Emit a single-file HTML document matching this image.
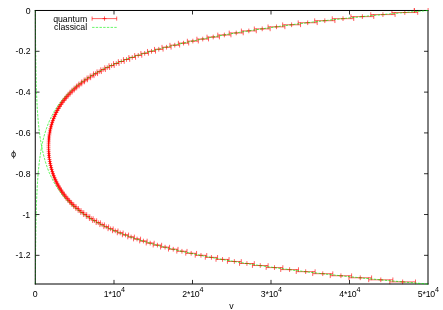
<!DOCTYPE html>
<html><head><meta charset="utf-8"><title>plot</title>
<style>html,body{margin:0;padding:0;background:#fff;}body{width:443px;height:310px;overflow:hidden;font-family:"Liberation Sans",sans-serif;}</style>
</head><body>
<svg width="443" height="310" viewBox="0 0 443 310" style="display:block;will-change:transform">
<defs><filter id="g" x="-5%" y="-5%" width="110%" height="110%"><feOffset dx="0" dy="0"/></filter></defs>
<rect width="443" height="310" fill="#fff"/>
<path d="M414.38 8.10v4.6M428.10 8.00v2.5M391.91 12.54H417.73M391.91 10.19v4.7M417.73 10.19v4.7M402.82 12.54h4M404.82 10.19v4.7M370.78 14.58H395.07M370.78 12.23v4.7M395.07 12.23v4.7M380.93 14.58h4M382.93 12.23v4.7M350.92 16.62H373.77M350.92 14.27v4.7M373.77 14.27v4.7M360.35 16.62h4M362.35 14.27v4.7M332.25 18.66H353.74M332.25 16.31v4.7M353.74 16.31v4.7M341.00 18.66h4M343.00 16.31v4.7M314.70 20.70H334.91M314.70 18.35v4.7M334.91 18.35v4.7M322.80 20.70h4M324.80 18.35v4.7M298.19 22.74H317.20M298.19 20.39v4.7M317.20 20.39v4.7M305.69 22.74h4M307.69 20.39v4.7M282.66 24.78H300.54M282.66 22.43v4.7M300.54 22.43v4.7M289.60 24.78h4M291.60 22.43v4.7M268.06 26.82H284.88M268.06 24.47v4.7M284.88 24.47v4.7M274.47 26.82h4M276.47 24.47v4.7M254.32 28.86H270.14M254.32 26.51v4.7M270.14 26.51v4.7M260.23 28.86h4M262.23 26.51v4.7M241.39 30.90H256.27M241.39 28.55v4.7M256.27 28.55v4.7M246.83 30.90h4M248.83 28.55v4.7M229.23 32.94H243.23M229.23 30.59v4.7M243.23 30.59v4.7M234.23 32.94h4M236.23 30.59v4.7M217.79 34.98H230.95M217.79 32.63v4.7M230.95 32.63v4.7M222.37 34.98h4M224.37 32.63v4.7M207.03 37.02H219.40M207.03 34.67v4.7M219.40 34.67v4.7M211.22 37.02h4M213.22 34.67v4.7M196.90 39.06H208.53M196.90 36.71v4.7M208.53 36.71v4.7M200.72 39.06h4M202.72 36.71v4.7M187.37 41.10H198.30M187.37 38.75v4.7M198.30 38.75v4.7M190.83 41.10h4M192.83 38.75v4.7M178.39 43.14H188.68M178.39 40.79v4.7M188.68 40.79v4.7M181.54 43.14h4M183.54 40.79v4.7M169.95 45.19H179.62M169.95 42.84v4.7M179.62 42.84v4.7M172.78 45.19h4M174.78 42.84v4.7M162.01 47.23H171.09M162.01 44.88v4.7M171.09 44.88v4.7M164.55 47.23h4M166.55 44.88v4.7M154.53 49.27H163.07M154.53 46.92v4.7M163.07 46.92v4.7M156.80 49.27h4M158.80 46.92v4.7M147.49 51.31H155.51M147.49 48.96v4.7M155.51 48.96v4.7M149.50 51.31h4M151.50 48.96v4.7M140.89 53.35H148.42M140.89 51.00v4.7M148.42 51.00v4.7M142.66 53.35h4M144.66 51.00v4.7M134.70 55.39H141.78M134.70 53.04v4.7M141.78 53.04v4.7M136.24 55.39h4M138.24 53.04v4.7M128.89 57.43H135.54M128.89 55.08v4.7M135.54 55.08v4.7M130.22 57.43h4M132.22 55.08v4.7M123.44 59.47H129.69M123.44 57.12v4.7M129.69 57.12v4.7M124.56 59.47h4M126.56 57.12v4.7M118.33 61.51H124.19M118.33 59.16v4.7M124.19 59.16v4.7M119.26 61.51h4M121.26 59.16v4.7M113.52 63.55H119.03M113.52 61.20v4.7M119.03 61.20v4.7M114.28 63.55h4M116.28 61.20v4.7M109.01 65.59H114.19M109.01 63.24v4.7M114.19 63.24v4.7M109.60 65.59h4M111.60 63.24v4.7M104.78 67.63H109.63M104.78 65.28v4.7M109.63 65.28v4.7M105.20 67.63h4M107.20 65.28v4.7M100.80 69.67H105.35M100.80 67.32v4.7M105.35 67.32v4.7M101.07 69.67h4M103.07 67.32v4.7M97.05 71.71H101.33M97.05 69.36v4.7M101.33 69.36v4.7M97.19 71.71h4M99.19 69.36v4.7M93.54 73.75H97.54M93.54 71.40v4.7M97.54 71.40v4.7M93.54 73.75h4M95.54 71.40v4.7M90.23 75.79H93.98M90.23 73.44v4.7M93.98 73.44v4.7M90.11 75.79h4M92.11 73.44v4.7M87.12 77.83H90.64M87.12 75.48v4.7M90.64 75.48v4.7M86.88 77.83h4M88.88 75.48v4.7M84.20 79.87H87.49M84.20 77.52v4.7M87.49 77.52v4.7M83.85 79.87h4M85.85 77.52v4.7M81.45 81.91H84.53M81.45 79.56v4.7M84.53 79.56v4.7M80.99 81.91h4M82.99 79.56v4.7M78.87 83.95H81.74M78.87 81.60v4.7M81.74 81.60v4.7M78.31 83.95h4M80.31 81.60v4.7M76.45 85.99H79.12M76.45 83.64v4.7M79.12 83.64v4.7M75.78 85.99h4M77.78 83.64v4.7M74.17 88.03H76.66M74.17 85.68v4.7M76.66 85.68v4.7M73.41 88.03h4M75.41 85.68v4.7M72.02 90.07H74.34M72.02 87.72v4.7M74.34 87.72v4.7M71.18 90.07h4M73.18 87.72v4.7M70.01 92.11H72.16M70.01 89.76v4.7M72.16 89.76v4.7M69.09 92.11h4M71.09 89.76v4.7M68.11 94.15H70.10M68.11 91.80v4.7M70.10 91.80v4.7M67.10 94.15h4M69.10 91.80v4.7M66.31 96.19H68.16M66.31 93.84v4.7M68.16 93.84v4.7M65.24 96.19h4M67.24 93.84v4.7M64.63 98.23H66.34M64.63 95.88v4.7M66.34 95.88v4.7M63.49 98.23h4M65.49 95.88v4.7M63.06 100.27H64.63M63.06 97.92v4.7M64.63 97.92v4.7M61.85 100.27h4M63.85 97.92v4.7M61.60 102.31H63.04M61.60 99.96v4.7M63.04 99.96v4.7M60.32 102.31h4M62.32 99.96v4.7M60.24 104.35H61.56M60.24 102.00v4.7M61.56 102.00v4.7M58.90 104.35h4M60.90 102.00v4.7M58.99 106.39H60.19M58.99 104.04v4.7M60.19 104.04v4.7M57.59 106.39h4M59.59 104.04v4.7M57.84 108.43H58.92M57.84 106.08v4.7M58.92 106.08v4.7M56.38 108.43h4M58.38 106.08v4.7M56.78 110.47H57.76M56.78 108.12v4.7M57.76 108.12v4.7M55.27 110.47h4M57.27 108.12v4.7M55.80 112.51H56.69M55.80 110.16v4.7M56.69 110.16v4.7M54.25 112.51h4M56.25 110.16v4.7M54.90 114.56H55.69M54.90 112.21v4.7M55.69 112.21v4.7M53.29 114.56h4M55.29 112.21v4.7M54.06 116.60H54.76M54.06 114.25v4.7M54.76 114.25v4.7M52.41 116.60h4M54.41 114.25v4.7M53.28 118.64H53.90M53.28 116.29v4.7M53.90 116.29v4.7M51.59 118.64h4M53.59 116.29v4.7M52.57 120.68H53.11M52.57 118.33v4.7M53.11 118.33v4.7M50.84 120.68h4M52.84 118.33v4.7M51.93 122.72H52.39M51.93 120.37v4.7M52.39 120.37v4.7M50.16 122.72h4M52.16 120.37v4.7M51.34 124.76H51.73M51.34 122.41v4.7M51.73 122.41v4.7M49.54 124.76h4M51.54 122.41v4.7M50.82 126.80H51.14M50.82 124.45v4.7M51.14 124.45v4.7M48.98 126.80h4M50.98 124.45v4.7M50.35 128.84H50.62M50.35 126.49v4.7M50.62 126.49v4.7M48.48 128.84h4M50.48 126.49v4.7M49.94 130.88H50.15M49.94 128.53v4.7M50.15 128.53v4.7M48.05 130.88h4M50.05 128.53v4.7M49.59 132.92H49.75M49.59 130.57v4.7M49.75 130.57v4.7M47.67 132.92h4M49.67 130.57v4.7M49.29 134.96H49.41M49.29 132.61v4.7M49.41 132.61v4.7M47.35 134.96h4M49.35 132.61v4.7M49.04 137.00H49.13M49.04 134.65v4.7M49.13 134.65v4.7M47.08 137.00h4M49.08 134.65v4.7M48.85 139.04H48.90M48.85 136.69v4.7M48.90 136.69v4.7M46.87 139.04h4M48.87 136.69v4.7M48.70 141.08H48.73M48.70 138.73v4.7M48.73 138.73v4.7M46.72 141.08h4M48.72 138.73v4.7M48.60 143.12H48.62M48.60 140.77v4.7M48.62 140.77v4.7M46.61 143.12h4M48.61 140.77v4.7M48.55 145.16H48.56M48.55 142.81v4.7M48.56 142.81v4.7M46.55 145.16h4M48.55 142.81v4.7M48.55 147.20H48.55M48.55 144.85v4.7M48.55 144.85v4.7M46.55 147.20h4M48.55 144.85v4.7M48.59 149.24H48.59M48.59 146.89v4.7M48.59 146.89v4.7M46.59 149.24h4M48.59 146.89v4.7M48.67 151.28H48.68M48.67 148.93v4.7M48.68 148.93v4.7M46.68 151.28h4M48.68 148.93v4.7M48.80 153.32H48.83M48.80 150.97v4.7M48.83 150.97v4.7M46.81 153.32h4M48.81 150.97v4.7M48.97 155.36H49.02M48.97 153.01v4.7M49.02 153.01v4.7M46.99 155.36h4M48.99 153.01v4.7M49.18 157.40H49.27M49.18 155.05v4.7M49.27 155.05v4.7M47.23 157.40h4M49.23 155.05v4.7M49.45 159.44H49.57M49.45 157.09v4.7M49.57 157.09v4.7M47.51 159.44h4M49.51 157.09v4.7M49.76 161.48H49.92M49.76 159.13v4.7M49.92 159.13v4.7M47.84 161.48h4M49.84 159.13v4.7M50.11 163.52H50.33M50.11 161.17v4.7M50.33 161.17v4.7M48.22 163.52h4M50.22 161.17v4.7M50.52 165.56H50.79M50.52 163.21v4.7M50.79 163.21v4.7M48.65 165.56h4M50.65 163.21v4.7M50.98 167.60H51.31M50.98 165.25v4.7M51.31 165.25v4.7M49.14 167.60h4M51.14 165.25v4.7M51.50 169.64H51.89M51.50 167.29v4.7M51.89 167.29v4.7M49.69 169.64h4M51.69 167.29v4.7M52.07 171.68H52.53M52.07 169.33v4.7M52.53 169.33v4.7M50.30 171.68h4M52.30 169.33v4.7M52.69 173.72H53.23M52.69 171.37v4.7M53.23 171.37v4.7M50.96 173.72h4M52.96 171.37v4.7M53.39 175.76H54.00M53.39 173.41v4.7M54.00 173.41v4.7M51.69 175.76h4M53.69 173.41v4.7M54.14 177.80H54.84M54.14 175.45v4.7M54.84 175.45v4.7M52.49 177.80h4M54.49 175.45v4.7M54.97 179.84H55.76M54.97 177.49v4.7M55.76 177.49v4.7M53.36 179.84h4M55.36 177.49v4.7M55.87 181.89H56.75M55.87 179.54v4.7M56.75 179.54v4.7M54.31 181.89h4M56.31 179.54v4.7M56.84 183.93H57.82M56.84 181.58v4.7M57.82 181.58v4.7M55.33 183.93h4M57.33 181.58v4.7M57.89 185.97H58.97M57.89 183.62v4.7M58.97 183.62v4.7M56.43 185.97h4M58.43 183.62v4.7M59.01 188.01H60.20M59.01 185.66v4.7M60.20 185.66v4.7M57.61 188.01h4M59.61 185.66v4.7M60.21 190.05H61.52M60.21 187.70v4.7M61.52 187.70v4.7M58.86 190.05h4M60.86 187.70v4.7M61.50 192.09H62.92M61.50 189.74v4.7M62.92 189.74v4.7M60.21 192.09h4M62.21 189.74v4.7M62.87 194.13H64.43M62.87 191.78v4.7M64.43 191.78v4.7M61.65 194.13h4M63.65 191.78v4.7M64.35 196.17H66.03M64.35 193.82v4.7M66.03 193.82v4.7M63.19 196.17h4M65.19 193.82v4.7M65.94 198.21H67.76M65.94 195.86v4.7M67.76 195.86v4.7M64.85 198.21h4M66.85 195.86v4.7M67.64 200.25H69.60M67.64 197.90v4.7M69.60 197.90v4.7M66.62 200.25h4M68.62 197.90v4.7M69.47 202.29H71.58M69.47 199.94v4.7M71.58 199.94v4.7M68.52 202.29h4M70.52 199.94v4.7M71.43 204.33H73.71M71.43 201.98v4.7M73.71 201.98v4.7M70.57 204.33h4M72.57 201.98v4.7M73.54 206.37H75.99M73.54 204.02v4.7M75.99 204.02v4.7M72.77 206.37h4M74.77 204.02v4.7M75.78 208.41H78.42M75.78 206.06v4.7M78.42 206.06v4.7M75.10 208.41h4M77.10 206.06v4.7M78.18 210.45H81.00M78.18 208.10v4.7M81.00 208.10v4.7M77.59 210.45h4M79.59 208.10v4.7M80.73 212.49H83.75M80.73 210.14v4.7M83.75 210.14v4.7M80.24 212.49h4M82.24 210.14v4.7M83.44 214.53H86.68M83.44 212.18v4.7M86.68 212.18v4.7M83.06 214.53h4M85.06 212.18v4.7M86.33 216.57H89.79M86.33 214.22v4.7M89.79 214.22v4.7M86.06 216.57h4M88.06 214.22v4.7M89.41 218.61H93.11M89.41 216.26v4.7M93.11 216.26v4.7M89.26 218.61h4M91.26 216.26v4.7M92.69 220.65H96.64M92.69 218.30v4.7M96.64 218.30v4.7M92.67 220.65h4M94.67 218.30v4.7M96.18 222.69H100.39M96.18 220.34v4.7M100.39 220.34v4.7M96.29 222.69h4M98.29 220.34v4.7M99.90 224.73H104.39M99.90 222.38v4.7M104.39 222.38v4.7M100.15 224.73h4M102.15 222.38v4.7M103.85 226.77H108.64M103.85 224.42v4.7M108.64 224.42v4.7M104.25 226.77h4M106.25 224.42v4.7M108.06 228.81H113.17M108.06 226.46v4.7M113.17 226.46v4.7M108.62 228.81h4M110.62 226.46v4.7M112.55 230.85H117.98M112.55 228.50v4.7M117.98 228.50v4.7M113.26 230.85h4M115.26 228.50v4.7M117.32 232.89H123.11M117.32 230.54v4.7M123.11 230.54v4.7M118.21 232.89h4M120.21 230.54v4.7M122.40 234.93H128.57M122.40 232.58v4.7M128.57 232.58v4.7M123.48 234.93h4M125.48 232.58v4.7M127.80 236.97H134.37M127.80 234.62v4.7M134.37 234.62v4.7M129.09 236.97h4M131.09 234.62v4.7M133.56 239.01H140.56M133.56 236.66v4.7M140.56 236.66v4.7M135.06 239.01h4M137.06 236.66v4.7M139.70 241.05H147.14M139.70 238.70v4.7M147.14 238.70v4.7M141.42 241.05h4M143.42 238.70v4.7M146.23 243.09H154.16M146.23 240.74v4.7M154.16 240.74v4.7M148.19 243.09h4M150.19 240.74v4.7M153.19 245.13H161.63M153.19 242.78v4.7M161.63 242.78v4.7M155.41 245.13h4M157.41 242.78v4.7M160.59 247.17H169.57M160.59 244.82v4.7M169.57 244.82v4.7M163.08 247.17h4M165.08 244.82v4.7M168.47 249.21H178.02M168.47 246.86v4.7M178.02 246.86v4.7M171.25 249.21h4M173.25 246.86v4.7M176.84 251.26H187.01M176.84 248.91v4.7M187.01 248.91v4.7M179.93 251.26h4M181.93 248.91v4.7M185.75 253.30H196.57M185.75 250.95v4.7M196.57 250.95v4.7M189.16 253.30h4M191.16 250.95v4.7M195.23 255.34H206.74M195.23 252.99v4.7M206.74 252.99v4.7M198.98 255.34h4M200.98 252.99v4.7M205.30 257.38H217.55M205.30 255.03v4.7M217.55 255.03v4.7M209.43 257.38h4M211.43 255.03v4.7M216.02 259.42H229.05M216.02 257.07v4.7M229.05 257.07v4.7M220.54 259.42h4M222.54 257.07v4.7M227.42 261.46H241.28M227.42 259.11v4.7M241.28 259.11v4.7M232.35 261.46h4M234.35 259.11v4.7M239.55 263.50H254.29M239.55 261.15v4.7M254.29 261.15v4.7M244.92 263.50h4M246.92 261.15v4.7M252.44 265.54H268.12M252.44 263.19v4.7M268.12 263.19v4.7M258.28 265.54h4M260.28 263.19v4.7M266.15 267.58H282.83M266.15 265.23v4.7M282.83 265.23v4.7M272.49 267.58h4M274.49 265.23v4.7M280.73 269.62H298.47M280.73 267.27v4.7M298.47 267.27v4.7M287.60 269.62h4M289.60 267.27v4.7M296.24 271.66H315.11M296.24 269.31v4.7M315.11 269.31v4.7M303.67 271.66h4M305.67 269.31v4.7M312.72 273.70H332.79M312.72 271.35v4.7M332.79 271.35v4.7M320.76 273.70h4M322.76 271.35v4.7M330.26 275.74H351.60M330.26 273.39v4.7M351.60 273.39v4.7M338.93 275.74h4M340.93 273.39v4.7M348.91 277.78H371.60M348.91 275.43v4.7M371.60 275.43v4.7M358.25 277.78h4M360.25 275.43v4.7M368.73 279.82H392.87M368.73 277.47v4.7M392.87 277.47v4.7M378.80 279.82h4M380.80 277.47v4.7M389.82 281.86H415.49M389.82 279.51v4.7M415.49 279.51v4.7M400.65 281.86h4M402.65 279.51v4.7" stroke="#ff0000" stroke-width="0.62" fill="none"/>
<g stroke="#000" fill="none">
<path d="M35.3 284.4V10.0" stroke-width="1" opacity="0.5"/>
<path d="M34.8 10.47H428.5" stroke-width="1"/>
<path d="M428.0 10.5V284.5M34.8 284.0H428.5" stroke-width="1"/>
<path d="M114.00 283.9v-4M114.00 10.5v4M192.50 283.9v-4M192.50 10.5v4M271.00 283.9v-4M271.00 10.5v4M349.50 283.9v-4M349.50 10.5v4M35.5 51.31h4M428.0 51.31h-4M35.5 92.11h4M428.0 92.11h-4M35.5 132.92h4M428.0 132.92h-4M35.5 173.72h4M428.0 173.72h-4M35.5 214.53h4M428.0 214.53h-4M35.5 255.34h4M428.0 255.34h-4" stroke-width="0.9" stroke="#000" opacity="0.9"/>
</g>
<path d="M414.26 8.10v4.6" stroke="#ff0000" stroke-width="0.62" fill="none" opacity="0.8"/>
<path d="M35.40 10.50L35.41 10.84L35.41 11.18L35.41 11.53L35.41 11.87L35.41 12.21L35.41 12.55L35.41 12.89L35.41 13.23L35.41 13.58L35.42 13.92L35.42 14.26L35.42 14.60L35.42 14.94L35.42 15.28L35.42 15.63L35.42 15.97L35.42 16.31L35.43 16.65L35.43 16.99L35.43 17.34L35.43 17.68L35.43 18.02L35.43 18.36L35.43 18.70L35.43 19.04L35.44 19.39L35.44 19.73L35.44 20.07L35.44 20.41L35.44 20.75L35.44 21.09L35.44 21.44L35.45 21.78L35.45 22.12L35.45 22.46L35.45 22.80L35.45 23.14L35.45 23.49L35.46 23.83L35.46 24.17L35.46 24.51L35.46 24.85L35.46 25.20L35.46 25.54L35.47 25.88L35.47 26.22L35.47 26.56L35.47 26.90L35.47 27.25L35.47 27.59L35.48 27.93L35.48 28.27L35.48 28.61L35.48 28.95L35.48 29.30L35.48 29.64L35.49 29.98L35.49 30.32L35.49 30.66L35.49 31.00L35.49 31.35L35.50 31.69L35.50 32.03L35.50 32.37L35.50 32.71L35.50 33.06L35.51 33.40L35.51 33.74L35.51 34.08L35.51 34.42L35.52 34.76L35.52 35.11L35.52 35.45L35.52 35.79L35.52 36.13L35.53 36.47L35.53 36.81L35.53 37.16L35.53 37.50L35.54 37.84L35.54 38.18L35.54 38.52L35.54 38.87L35.55 39.21L35.55 39.55L35.55 39.89L35.55 40.23L35.56 40.57L35.56 40.92L35.56 41.26L35.56 41.60L35.57 41.94L35.57 42.28L35.57 42.62L35.58 42.97L35.58 43.31L35.58 43.65L35.58 43.99L35.59 44.33L35.59 44.67L35.59 45.02L35.60 45.36L35.60 45.70L35.60 46.04L35.61 46.38L35.61 46.73L35.61 47.07L35.61 47.41L35.62 47.75L35.62 48.09L35.62 48.43L35.63 48.78L35.63 49.12L35.63 49.46L35.64 49.80L35.64 50.14L35.65 50.48L35.65 50.83L35.65 51.17L35.66 51.51L35.66 51.85L35.66 52.19L35.67 52.54L35.67 52.88L35.67 53.22L35.68 53.56L35.68 53.90L35.69 54.24L35.69 54.59L35.69 54.93L35.70 55.27L35.70 55.61L35.71 55.95L35.71 56.29L35.72 56.64L35.72 56.98L35.72 57.32L35.73 57.66L35.73 58.00L35.74 58.34L35.74 58.69L35.75 59.03L35.75 59.37L35.76 59.71L35.76 60.05L35.76 60.40L35.77 60.74L35.77 61.08L35.78 61.42L35.78 61.76L35.79 62.10L35.79 62.45L35.80 62.79L35.80 63.13L35.81 63.47L35.81 63.81L35.82 64.15L35.82 64.50L35.83 64.84L35.84 65.18L35.84 65.52L35.85 65.86L35.85 66.21L35.86 66.55L35.86 66.89L35.87 67.23L35.87 67.57L35.88 67.91L35.89 68.26L35.89 68.60L35.90 68.94L35.90 69.28L35.91 69.62L35.92 69.96L35.92 70.31L35.93 70.65L35.94 70.99L35.94 71.33L35.95 71.67L35.96 72.01L35.96 72.36L35.97 72.70L35.98 73.04L35.98 73.38L35.99 73.72L36.00 74.07L36.00 74.41L36.01 74.75L36.02 75.09L36.03 75.43L36.03 75.77L36.04 76.12L36.05 76.46L36.06 76.80L36.06 77.14L36.07 77.48L36.08 77.82L36.09 78.17L36.10 78.51L36.10 78.85L36.11 79.19L36.12 79.53L36.13 79.88L36.14 80.22L36.14 80.56L36.15 80.90L36.16 81.24L36.17 81.58L36.18 81.93L36.19 82.27L36.20 82.61L36.21 82.95L36.22 83.29L36.23 83.63L36.24 83.98L36.25 84.32L36.25 84.66L36.26 85.00L36.27 85.34L36.28 85.68L36.29 86.03L36.30 86.37L36.32 86.71L36.33 87.05L36.34 87.39L36.35 87.74L36.36 88.08L36.37 88.42L36.38 88.76L36.39 89.10L36.40 89.44L36.41 89.79L36.42 90.13L36.44 90.47L36.45 90.81L36.46 91.15L36.47 91.49L36.48 91.84L36.50 92.18L36.51 92.52L36.52 92.86L36.53 93.20L36.55 93.55L36.56 93.89L36.57 94.23L36.59 94.57L36.60 94.91L36.61 95.25L36.63 95.60L36.64 95.94L36.66 96.28L36.67 96.62L36.69 96.96L36.70 97.30L36.71 97.65L36.73 97.99L36.75 98.33L36.76 98.67L36.78 99.01L36.79 99.36L36.81 99.70L36.82 100.04L36.84 100.38L36.86 100.72L36.87 101.06L36.89 101.41L36.91 101.75L36.92 102.09L36.94 102.43L36.96 102.77L36.98 103.11L36.99 103.46L37.01 103.80L37.03 104.14L37.05 104.48L37.07 104.82L37.09 105.16L37.10 105.51L37.12 105.85L37.14 106.19L37.16 106.53L37.18 106.87L37.20 107.22L37.22 107.56L37.24 107.90L37.26 108.24L37.28 108.58L37.30 108.92L37.32 109.27L37.35 109.61L37.37 109.95L37.39 110.29L37.41 110.63L37.43 110.97L37.45 111.32L37.48 111.66L37.50 112.00L37.52 112.34L37.54 112.68L37.57 113.03L37.59 113.37L37.62 113.71L37.64 114.05L37.66 114.39L37.69 114.73L37.71 115.08L37.74 115.42L37.77 115.76L37.79 116.10L37.82 116.44L37.84 116.78L37.87 117.13L37.90 117.47L37.93 117.81L37.95 118.15L37.98 118.49L38.01 118.83L38.04 119.18L38.07 119.52L38.10 119.86L38.13 120.20L38.16 120.54L38.19 120.89L38.22 121.23L38.25 121.57L38.28 121.91L38.31 122.25L38.35 122.59L38.38 122.94L38.41 123.28L38.45 123.62L38.48 123.96L38.51 124.30L38.55 124.64L38.58 124.99L38.62 125.33L38.65 125.67L38.69 126.01L38.73 126.35L38.76 126.69L38.80 127.04L38.84 127.38L38.88 127.72L38.91 128.06L38.95 128.40L38.99 128.75L39.03 129.09L39.07 129.43L39.11 129.77L39.15 130.11L39.20 130.45L39.24 130.80L39.28 131.14L39.32 131.48L39.37 131.82L39.41 132.16L39.45 132.50L39.50 132.85L39.54 133.19L39.59 133.53L39.64 133.87L39.68 134.21L39.73 134.56L39.78 134.90L39.82 135.24L39.87 135.58L39.92 135.92L39.97 136.26L40.02 136.61L40.07 136.95L40.12 137.29L40.17 137.63L40.23 137.97L40.28 138.31L40.33 138.66L40.39 139.00L40.44 139.34L40.49 139.68L40.55 140.02L40.60 140.36L40.66 140.71L40.72 141.05L40.78 141.39L40.83 141.73L40.89 142.07L40.95 142.42L41.01 142.76L41.07 143.10L41.13 143.44L41.19 143.78L41.25 144.12L41.32 144.47L41.38 144.81L41.44 145.15L41.51 145.49L41.57 145.83L41.64 146.17L41.70 146.52L41.77 146.86L41.83 147.20L41.90 147.54L41.97 147.88L42.04 148.23L42.11 148.57L42.18 148.91L42.25 149.25L42.32 149.59L42.39 149.93L42.47 150.28L42.54 150.62L42.62 150.96L42.69 151.30L42.77 151.64L42.84 151.98L42.92 152.33L43.00 152.67L43.08 153.01L43.16 153.35L43.24 153.69L43.32 154.03L43.40 154.38L43.49 154.72L43.57 155.06L43.65 155.40L43.74 155.74L43.83 156.09L43.91 156.43L44.00 156.77L44.09 157.11L44.18 157.45L44.27 157.79L44.36 158.14L44.46 158.48L44.55 158.82L44.64 159.16L44.74 159.50L44.84 159.84L44.93 160.19L45.03 160.53L45.13 160.87L45.23 161.21L45.33 161.55L45.44 161.90L45.54 162.24L45.64 162.58L45.75 162.92L45.86 163.26L45.96 163.60L46.07 163.95L46.18 164.29L46.29 164.63L46.41 164.97L46.52 165.31L46.63 165.65L46.75 166.00L46.87 166.34L46.98 166.68L47.10 167.02L47.22 167.36L47.35 167.70L47.47 168.05L47.59 168.39L47.72 168.73L47.85 169.07L47.97 169.41L48.10 169.76L48.23 170.10L48.37 170.44L48.50 170.78L48.63 171.12L48.77 171.46L48.91 171.81L49.05 172.15L49.19 172.49L49.33 172.83L49.47 173.17L49.62 173.51L49.77 173.86L49.91 174.20L50.06 174.54L50.21 174.88L50.37 175.22L50.52 175.57L50.68 175.91L50.84 176.25L50.99 176.59L51.16 176.93L51.32 177.27L51.48 177.62L51.65 177.96L51.82 178.30L51.99 178.64L52.16 178.98L52.33 179.32L52.51 179.67L52.68 180.01L52.86 180.35L53.05 180.69L53.23 181.03L53.41 181.38L53.60 181.72L53.79 182.06L53.98 182.40L54.17 182.74L54.37 183.08L54.56 183.43L54.76 183.77L54.96 184.11L55.17 184.45L55.37 184.79L55.58 185.13L55.78 185.48L55.99 185.82L56.20 186.16L56.42 186.50L56.63 186.84L56.85 187.18L57.07 187.53L57.29 187.87L57.52 188.21L57.74 188.55L57.97 188.89L58.20 189.24L58.43 189.58L58.67 189.92L58.90 190.26L59.14 190.60L59.38 190.94L59.63 191.29L59.87 191.63L60.12 191.97L60.37 192.31L60.63 192.65L60.88 192.99L61.14 193.34L61.40 193.68L61.67 194.02L61.93 194.36L62.20 194.70L62.48 195.04L62.75 195.39L63.03 195.73L63.31 196.07L63.59 196.41L63.88 196.75L64.17 197.10L64.46 197.44L64.76 197.78L65.06 198.12L65.36 198.46L65.67 198.80L65.98 199.15L66.29 199.49L66.60 199.83L66.92 200.17L67.25 200.51L67.57 200.85L67.90 201.20L68.24 201.54L68.58 201.88L68.92 202.22L69.26 202.56L69.61 202.91L69.97 203.25L70.32 203.59L70.69 203.93L71.05 204.27L71.42 204.61L71.79 204.96L72.17 205.30L72.55 205.64L72.94 205.98L73.33 206.32L73.72 206.66L74.11 207.01L74.51 207.35L74.92 207.69L75.33 208.03L75.74 208.37L76.16 208.72L76.58 209.06L77.00 209.40L77.43 209.74L77.87 210.08L78.30 210.42L78.75 210.77L79.19 211.11L79.64 211.45L80.10 211.79L80.56 212.13L81.03 212.47L81.50 212.82L81.97 213.16L82.45 213.50L82.94 213.84L83.43 214.18L83.92 214.52L84.42 214.87L84.93 215.21L85.44 215.55L85.95 215.89L86.47 216.23L87.00 216.58L87.53 216.92L88.06 217.26L88.61 217.60L89.15 217.94L89.71 218.28L90.26 218.63L90.83 218.97L91.40 219.31L91.97 219.65L92.56 219.99L93.14 220.33L93.74 220.68L94.34 221.02L94.94 221.36L95.55 221.70L96.17 222.04L96.80 222.38L97.43 222.73L98.06 223.07L98.71 223.41L99.36 223.75L100.02 224.09L100.68 224.44L101.35 224.78L102.03 225.12L102.71 225.46L103.40 225.80L104.10 226.14L104.81 226.49L105.52 226.83L106.24 227.17L106.97 227.51L107.71 227.85L108.45 228.19L109.20 228.54L109.96 228.88L110.73 229.22L111.50 229.56L112.28 229.90L113.07 230.25L113.87 230.59L114.68 230.93L115.49 231.27L116.32 231.61L117.15 231.95L117.99 232.30L118.84 232.64L119.70 232.98L120.57 233.32L121.44 233.66L122.33 234.00L123.22 234.35L124.13 234.69L125.04 235.03L125.96 235.37L126.90 235.71L127.84 236.05L128.79 236.40L129.75 236.74L130.72 237.08L131.71 237.42L132.70 237.76L133.70 238.11L134.72 238.45L135.74 238.79L136.78 239.13L137.82 239.47L138.88 239.81L139.95 240.16L141.03 240.50L142.12 240.84L143.22 241.18L144.33 241.52L145.46 241.86L146.60 242.21L147.74 242.55L148.91 242.89L150.08 243.23L151.27 243.57L152.47 243.92L153.68 244.26L154.90 244.60L156.14 244.94L157.39 245.28L158.65 245.62L159.92 245.97L161.21 246.31L162.51 246.65L163.83 246.99L165.16 247.33L166.50 247.67L167.85 248.02L169.23 248.36L170.61 248.70L172.01 249.04L173.42 249.38L174.85 249.72L176.29 250.07L177.75 250.41L179.22 250.75L180.71 251.09L182.21 251.43L183.73 251.78L185.27 252.12L186.82 252.46L188.38 252.80L189.97 253.14L191.56 253.48L193.18 253.83L194.81 254.17L196.46 254.51L198.13 254.85L199.81 255.19L201.51 255.53L203.23 255.88L204.96 256.22L206.72 256.56L208.49 256.90L210.28 257.24L212.09 257.59L213.92 257.93L215.76 258.27L217.63 258.61L219.51 258.95L221.42 259.29L223.34 259.64L225.29 259.98L227.25 260.32L229.23 260.66L231.24 261.00L233.26 261.34L235.31 261.69L237.38 262.03L239.47 262.37L241.58 262.71L243.71 263.05L245.87 263.39L248.04 263.74L250.24 264.08L252.46 264.42L254.71 264.76L256.98 265.10L259.27 265.45L261.58 265.79L263.92 266.13L266.29 266.47L268.67 266.81L271.09 267.15L273.52 267.50L275.99 267.84L278.47 268.18L280.99 268.52L283.53 268.86L286.09 269.20L288.69 269.55L291.31 269.89L293.95 270.23L296.63 270.57L299.33 270.91L302.06 271.26L304.81 271.60L307.60 271.94L310.42 272.28L313.26 272.62L316.13 272.96L319.04 273.31L321.97 273.65L324.93 273.99L327.93 274.33L330.95 274.67L334.01 275.01L337.10 275.36L340.22 275.70L343.37 276.04L346.55 276.38L349.77 276.72L353.02 277.06L356.31 277.41L359.62 277.75L362.98 278.09L366.36 278.43L369.79 278.77L373.24 279.12L376.74 279.46L380.27 279.80L383.83 280.14L387.44 280.48L391.08 280.82L394.75 281.17L398.47 281.51L402.22 281.85L406.02 282.19L409.85 282.53L413.72 282.87L417.63 283.22L421.59 283.56L425.58 283.90L428.00 284.09" stroke="#00f000" stroke-width="0.72" stroke-dasharray="2.4 1.3" fill="none"/>
<path d="M428.00 10.49L427.80 10.50L423.80 10.84L419.84 11.18L415.92 11.53L412.03 11.87L408.19 12.21L404.39 12.55L400.63 12.89L396.91 13.23L393.22 13.58L389.57 13.92L385.96 14.26L382.39 14.60L378.86 14.94L375.36 15.28L371.89 15.63L368.47 15.97L365.07 16.31L361.72 16.65L358.39 16.99L355.10 17.34L351.85 17.68L348.63 18.02L345.44 18.36L342.28 18.70L339.16 19.04L336.07 19.39L333.01 19.73L329.98 20.07L326.98 20.41L324.01 20.75L321.08 21.09L318.17 21.44L315.29 21.78L312.45 22.12L309.63 22.46L306.84 22.80L304.08 23.14L301.34 23.49L298.64 23.83L295.96 24.17L293.31 24.51L290.69 24.85L288.09 25.20L285.52 25.54L282.98 25.88L280.46 26.22L277.97 26.56L275.50 26.90L273.06 27.25L270.64 27.59L268.25 27.93L265.88 28.27L263.54 28.61L261.22 28.95L258.92 29.30L256.65 29.64L254.40 29.98L252.17 30.32L249.96 30.66L247.78 31.00L245.62 31.35L243.48 31.69L241.36 32.03L239.27 32.37L237.20 32.71L235.14 33.06L233.11 33.40L231.10 33.74L229.11 34.08L227.14 34.42L225.18 34.76L223.25 35.11L221.34 35.45L219.45 35.79L217.57 36.13L215.72 36.47L213.88 36.81L212.07 37.16L210.27 37.50L208.49 37.84L206.72 38.18L204.98 38.52L203.25 38.87L201.54 39.21L199.85 39.55L198.17 39.89L196.51 40.23L194.87 40.57L193.25 40.92L191.64 41.26L190.04 41.60L188.47 41.94L186.91 42.28L185.36 42.62L183.83 42.97L182.32 43.31L180.82 43.65L179.33 43.99L177.86 44.33L176.41 44.67L174.97 45.02L173.55 45.36L172.13 45.70L170.74 46.04L169.36 46.38L167.99 46.73L166.63 47.07L165.29 47.41L163.96 47.75L162.65 48.09L161.35 48.43L160.06 48.78L158.78 49.12L157.52 49.46L156.27 49.80L155.04 50.14L153.81 50.48L152.60 50.83L151.40 51.17L150.21 51.51L149.04 51.85L147.87 52.19L146.73 52.54L145.59 52.88L144.46 53.22L143.35 53.56L142.25 53.90L141.16 54.24L140.08 54.59L139.01 54.93L137.96 55.27L136.92 55.61L135.88 55.95L134.86 56.29L133.85 56.64L132.85 56.98L131.86 57.32L130.88 57.66L129.91 58.00L128.95 58.34L128.00 58.69L127.06 59.03L126.13 59.37L125.21 59.71L124.30 60.05L123.40 60.40L122.51 60.74L121.63 61.08L120.75 61.42L119.89 61.76L119.03 62.10L118.19 62.45L117.35 62.79L116.52 63.13L115.70 63.47L114.89 63.81L114.08 64.15L113.29 64.50L112.50 64.84L111.72 65.18L110.95 65.52L110.19 65.86L109.43 66.21L108.69 66.55L107.95 66.89L107.21 67.23L106.49 67.57L105.77 67.91L105.06 68.26L104.36 68.60L103.66 68.94L102.97 69.28L102.29 69.62L101.61 69.96L100.95 70.31L100.28 70.65L99.63 70.99L98.98 71.33L98.34 71.67L97.70 72.01L97.07 72.36L96.45 72.70L95.84 73.04L95.23 73.38L94.62 73.72L94.02 74.07L93.43 74.41L92.84 74.75L92.26 75.09L91.69 75.43L91.12 75.77L90.56 76.12L90.00 76.46L89.45 76.80L88.90 77.14L88.36 77.48L87.83 77.82L87.29 78.17L86.77 78.51L86.25 78.85L85.73 79.19L85.23 79.53L84.72 79.88L84.22 80.22L83.73 80.56L83.24 80.90L82.75 81.24L82.27 81.58L81.80 81.93L81.32 82.27L80.86 82.61L80.40 82.95L79.94 83.29L79.49 83.63L79.04 83.98L78.59 84.32L78.16 84.66L77.72 85.00L77.29 85.34L76.86 85.68L76.44 86.03L76.02 86.37L75.61 86.71L75.20 87.05L74.79 87.39L74.39 87.74L73.99 88.08L73.60 88.42L73.21 88.76L72.82 89.10L72.44 89.44L72.06 89.79L71.68 90.13L71.31 90.47L70.94 90.81L70.58 91.15L70.21 91.49L69.85 91.84L69.50 92.18L69.15 92.52L68.80 92.86L68.45 93.20L68.10 93.55L67.76 93.89L67.43 94.23L67.09 94.57L66.76 94.91L66.43 95.25L66.11 95.60L65.78 95.94L65.47 96.28L65.15 96.62L64.84 96.96L64.53 97.30L64.22 97.65L63.92 97.99L63.61 98.33L63.32 98.67L63.02 99.01L62.73 99.36L62.44 99.70L62.15 100.04L61.87 100.38L61.59 100.72L61.31 101.06L61.04 101.41L60.77 101.75L60.50 102.09L60.24 102.43L59.97 102.77L59.71 103.11L59.46 103.46L59.20 103.80L58.95 104.14L58.70 104.48L58.46 104.82L58.21 105.16L57.97 105.51L57.74 105.85L57.50 106.19L57.27 106.53L57.04 106.87L56.82 107.22L56.59 107.56L56.37 107.90L56.15 108.24L55.94 108.58L55.72 108.92L55.51 109.27L55.30 109.61L55.10 109.95L54.89 110.29L54.69 110.63L54.50 110.97L54.30 111.32L54.10 111.66L53.91 112.00L53.72 112.34L53.53 112.68L53.34 113.03L53.15 113.37L52.97 113.71L52.79 114.05L52.60 114.39L52.42 114.73L52.25 115.08L52.07 115.42L51.90 115.76L51.72 116.10L51.55 116.44L51.38 116.78L51.21 117.13L51.05 117.47L50.88 117.81L50.72 118.15L50.56 118.49L50.39 118.83L50.24 119.18L50.08 119.52L49.92 119.86L49.77 120.20L49.62 120.54L49.46 120.89L49.31 121.23L49.17 121.57L49.02 121.91L48.87 122.25L48.73 122.59L48.59 122.94L48.45 123.28L48.31 123.62L48.17 123.96L48.03 124.30L47.90 124.64L47.76 124.99L47.63 125.33L47.50 125.67L47.37 126.01L47.24 126.35L47.12 126.69L46.99 127.04L46.86 127.38L46.74 127.72L46.62 128.06L46.50 128.40L46.38 128.75L46.26 129.09L46.15 129.43L46.03 129.77L45.92 130.11L45.80 130.45L45.69 130.80L45.58 131.14L45.47 131.48L45.36 131.82L45.26 132.16L45.15 132.50L45.04 132.85L44.94 133.19L44.84 133.53L44.74 133.87L44.64 134.21L44.54 134.56L44.44 134.90L44.34 135.24L44.25 135.58L44.15 135.92L44.06 136.26L43.97 136.61L43.87 136.95L43.78 137.29L43.69 137.63L43.61 137.97L43.52 138.31L43.43 138.66L43.35 139.00L43.26 139.34L43.18 139.68L43.09 140.02L43.01 140.36L42.93 140.71L42.85 141.05L42.77 141.39L42.70 141.73L42.62 142.07L42.54 142.42L42.47 142.76L42.39 143.10L42.32 143.44L42.25 143.78L42.17 144.12L42.10 144.47L42.03 144.81L41.96 145.15L41.89 145.49L41.83 145.83L41.76 146.17L41.69 146.52L41.63 146.86L41.56 147.20L41.50 147.54L41.43 147.88L41.37 148.23L41.31 148.57L41.25 148.91L41.19 149.25L41.13 149.59L41.07 149.93L41.01 150.28L40.95 150.62L40.89 150.96L40.84 151.30L40.78 151.64L40.72 151.98L40.67 152.33L40.61 152.67L40.56 153.01L40.51 153.35L40.45 153.69L40.40 154.03L40.35 154.38L40.30 154.72L40.25 155.06L40.20 155.40L40.15 155.74L40.10 156.09L40.05 156.43L40.00 156.77L39.95 157.11L39.91 157.45L39.86 157.79L39.81 158.14L39.77 158.48L39.72 158.82L39.68 159.16L39.63 159.50L39.59 159.84L39.55 160.19L39.50 160.53L39.46 160.87L39.42 161.21L39.38 161.55L39.34 161.90L39.30 162.24L39.26 162.58L39.22 162.92L39.18 163.26L39.14 163.60L39.10 163.95L39.06 164.29L39.02 164.63L38.98 164.97L38.95 165.31L38.91 165.65L38.87 166.00L38.84 166.34L38.80 166.68L38.77 167.02L38.73 167.36L38.70 167.70L38.66 168.05L38.63 168.39L38.59 168.73L38.56 169.07L38.53 169.41L38.50 169.76L38.46 170.10L38.43 170.44L38.40 170.78L38.37 171.12L38.34 171.46L38.31 171.81L38.28 172.15L38.25 172.49L38.22 172.83L38.19 173.17L38.16 173.51L38.13 173.86L38.10 174.20L38.07 174.54L38.04 174.88L38.02 175.22L37.99 175.57L37.96 175.91L37.93 176.25L37.91 176.59L37.88 176.93L37.85 177.27L37.83 177.62L37.80 177.96L37.78 178.30L37.75 178.64L37.73 178.98L37.70 179.32L37.68 179.67L37.65 180.01L37.63 180.35L37.61 180.69L37.58 181.03L37.56 181.38L37.54 181.72L37.51 182.06L37.49 182.40L37.47 182.74L37.45 183.08L37.42 183.43L37.40 183.77L37.38 184.11L37.36 184.45L37.34 184.79L37.32 185.13L37.30 185.48L37.28 185.82L37.26 186.16L37.24 186.50L37.22 186.84L37.20 187.18L37.18 187.53L37.16 187.87L37.14 188.21L37.12 188.55L37.11 188.89L37.09 189.24L37.07 189.58L37.05 189.92L37.03 190.26L37.02 190.60L37.00 190.94L36.98 191.29L36.97 191.63L36.95 191.97L36.93 192.31L36.92 192.65L36.90 192.99L36.88 193.34L36.87 193.68L36.85 194.02L36.84 194.36L36.82 194.70L36.81 195.04L36.79 195.39L36.78 195.73L36.76 196.07L36.75 196.41L36.73 196.75L36.72 197.10L36.70 197.44L36.69 197.78L36.68 198.12L36.66 198.46L36.65 198.80L36.63 199.15L36.62 199.49L36.61 199.83L36.59 200.17L36.58 200.51L36.57 200.85L36.56 201.20L36.54 201.54L36.53 201.88L36.52 202.22L36.50 202.56L36.49 202.91L36.48 203.25L36.47 203.59L36.46 203.93L36.44 204.27L36.43 204.61L36.42 204.96L36.41 205.30L36.40 205.64L36.39 205.98L36.38 206.32L36.37 206.66L36.35 207.01L36.34 207.35L36.33 207.69L36.32 208.03L36.31 208.37L36.30 208.72L36.29 209.06L36.28 209.40L36.27 209.74L36.26 210.08L36.25 210.42L36.24 210.77L36.23 211.11L36.22 211.45L36.21 211.79L36.20 212.13L36.19 212.47L36.19 212.82L36.18 213.16L36.17 213.50L36.16 213.84L36.15 214.18L36.14 214.52L36.13 214.87L36.12 215.21L36.12 215.55L36.11 215.89L36.10 216.23L36.09 216.58L36.08 216.92L36.08 217.26L36.07 217.60L36.06 217.94L36.05 218.28L36.04 218.63L36.04 218.97L36.03 219.31L36.02 219.65L36.01 219.99L36.01 220.33L36.00 220.68L35.99 221.02L35.99 221.36L35.98 221.70L35.97 222.04L35.97 222.38L35.96 222.73L35.95 223.07L35.95 223.41L35.94 223.75L35.93 224.09L35.93 224.44L35.92 224.78L35.91 225.12L35.91 225.46L35.90 225.80L35.89 226.14L35.89 226.49L35.88 226.83L35.88 227.17L35.87 227.51L35.87 227.85L35.86 228.19L35.85 228.54L35.85 228.88L35.84 229.22L35.84 229.56L35.83 229.90L35.83 230.25L35.82 230.59L35.82 230.93L35.81 231.27L35.81 231.61L35.80 231.95L35.79 232.30L35.79 232.64L35.78 232.98L35.78 233.32L35.78 233.66L35.77 234.00L35.77 234.35L35.76 234.69L35.76 235.03L35.75 235.37L35.75 235.71L35.74 236.05L35.74 236.40L35.73 236.74L35.73 237.08L35.72 237.42L35.72 237.76L35.72 238.11L35.71 238.45L35.71 238.79L35.70 239.13L35.70 239.47L35.70 239.81L35.69 240.16L35.69 240.50L35.68 240.84L35.68 241.18L35.68 241.52L35.67 241.86L35.67 242.21L35.66 242.55L35.66 242.89L35.66 243.23L35.65 243.57L35.65 243.92L35.65 244.26L35.64 244.60L35.64 244.94L35.64 245.28L35.63 245.62L35.63 245.97L35.62 246.31L35.62 246.65L35.62 246.99L35.62 247.33L35.61 247.67L35.61 248.02L35.61 248.36L35.60 248.70L35.60 249.04L35.60 249.38L35.59 249.72L35.59 250.07L35.59 250.41L35.58 250.75L35.58 251.09L35.58 251.43L35.58 251.78L35.57 252.12L35.57 252.46L35.57 252.80L35.56 253.14L35.56 253.48L35.56 253.83L35.56 254.17L35.55 254.51L35.55 254.85L35.55 255.19L35.55 255.53L35.54 255.88L35.54 256.22L35.54 256.56L35.54 256.90L35.53 257.24L35.53 257.59L35.53 257.93L35.53 258.27L35.52 258.61L35.52 258.95L35.52 259.29L35.52 259.64L35.52 259.98L35.51 260.32L35.51 260.66L35.51 261.00L35.51 261.34L35.50 261.69L35.50 262.03L35.50 262.37L35.50 262.71L35.50 263.05L35.49 263.39L35.49 263.74L35.49 264.08L35.49 264.42L35.49 264.76L35.48 265.10L35.48 265.45L35.48 265.79L35.48 266.13L35.48 266.47L35.48 266.81L35.47 267.15L35.47 267.50L35.47 267.84L35.47 268.18L35.47 268.52L35.46 268.86L35.46 269.20L35.46 269.55L35.46 269.89L35.46 270.23L35.46 270.57L35.45 270.91L35.45 271.26L35.45 271.60L35.45 271.94L35.45 272.28L35.45 272.62L35.45 272.96L35.44 273.31L35.44 273.65L35.44 273.99L35.44 274.33L35.44 274.67L35.44 275.01L35.44 275.36L35.43 275.70L35.43 276.04L35.43 276.38L35.43 276.72L35.43 277.06L35.43 277.41L35.43 277.75L35.42 278.09L35.42 278.43L35.42 278.77L35.42 279.12L35.42 279.46L35.42 279.80L35.42 280.14L35.42 280.48L35.42 280.82L35.41 281.17L35.41 281.51L35.41 281.85L35.41 282.19L35.41 282.53L35.41 282.87L35.41 283.22L35.41 283.56L35.40 283.90" stroke="#00f000" stroke-width="0.72" stroke-dasharray="2.4 1.3" fill="none"/>
<path d="M35.3 284.4V10.0" stroke="#000" stroke-width="1" opacity="0.75" fill="none"/>
<path d="M92.1 18.6H116.7M92.1 16.5v4.2M116.7 16.5v4.2M102.5 18.6h4M104.5 16.400000000000002v4.4" stroke="#ff0000" stroke-width="0.62" fill="none"/>
<path d="M92.1 27.4H116.7" stroke="#00f000" stroke-width="0.6" stroke-dasharray="2.4 1.3" fill="none"/>
<g font-family="Liberation Sans, sans-serif" font-size="8.75" fill="#000" filter="url(#g)">
<text x="87.2" y="21.5" text-anchor="end">quantum</text>
<text x="87.2" y="30.3" text-anchor="end">classical</text>
<text transform="translate(30.60 13.65) scale(1 1.06)" text-anchor="end">0</text>
<text transform="translate(30.60 54.46) scale(1 1.06)" text-anchor="end">-0.2</text>
<text transform="translate(30.60 95.26) scale(1 1.06)" text-anchor="end">-0.4</text>
<text transform="translate(30.60 136.07) scale(1 1.06)" text-anchor="end">-0.6</text>
<text transform="translate(30.60 176.87) scale(1 1.06)" text-anchor="end">-0.8</text>
<text transform="translate(30.20 217.68) scale(1 1.06)" text-anchor="end">-1</text>
<text transform="translate(30.60 258.49) scale(1 1.06)" text-anchor="end">-1.2</text>
<text transform="translate(35.20 296.60) scale(1 1.06)" text-anchor="middle">0</text>
<text transform="translate(114.30 296.60) scale(1 1.06)" text-anchor="middle" letter-spacing="-0.15">1*10<tspan dy="-4.1" font-size="7.17">4</tspan></text>
<text transform="translate(192.80 296.60) scale(1 1.06)" text-anchor="middle" letter-spacing="-0.15">2*10<tspan dy="-4.1" font-size="7.17">4</tspan></text>
<text transform="translate(271.30 296.60) scale(1 1.06)" text-anchor="middle" letter-spacing="-0.15">3*10<tspan dy="-4.1" font-size="7.17">4</tspan></text>
<text transform="translate(349.80 296.60) scale(1 1.06)" text-anchor="middle" letter-spacing="-0.15">4*10<tspan dy="-4.1" font-size="7.17">4</tspan></text>
<text transform="translate(428.30 296.60) scale(1 1.06)" text-anchor="middle" letter-spacing="-0.15">5*10<tspan dy="-4.1" font-size="7.17">4</tspan></text>
<text x="231.5" y="308.6" text-anchor="middle">v</text>
</g>
<g stroke="#000" fill="none" stroke-width="0.8"><ellipse cx="13.6" cy="154.5" rx="1.9" ry="2.5"/><path d="M13.6 150.4V158.6" stroke-width="0.65"/></g>
</svg>
</body></html>
